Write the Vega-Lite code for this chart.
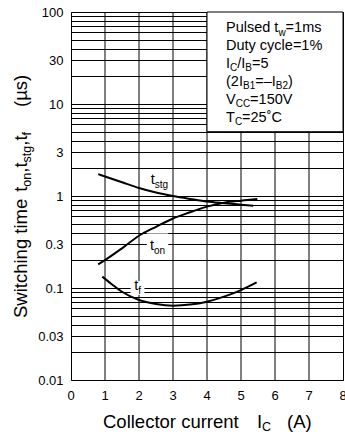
{
  "$schema": "https://vega.github.io/schema/vega-lite/v6.json",
  "width": 272,
  "height": 368,
  "autosize": "none",
  "padding": {"left": 71, "top": 12, "right": 2, "bottom": 54},
  "background": "white",
  "config": {
    "view": {"stroke": "black", "strokeWidth": 1},
    "font": "Liberation Sans",
    "axis": {
      "grid": true, "gridColor": "black", "gridWidth": 1, "gridOpacity": 1,
      "ticks": false, "domain": false,
      "labelFont": "Liberation Sans", "labelFontSize": 13, "labelColor": "black",
      "labelFlush": false, "labelOverlap": false, "labelBound": false
    },
    "axisY": {"labelPadding": 8}
  },
  "datasets": {
    "curves": [
      {"series": "tstg", "x": 0.8, "y": 1.73},
      {"series": "tstg", "x": 1.5, "y": 1.41},
      {"series": "tstg", "x": 2.0, "y": 1.22},
      {"series": "tstg", "x": 2.5, "y": 1.09},
      {"series": "tstg", "x": 3.0, "y": 1.0},
      {"series": "tstg", "x": 3.5, "y": 0.93},
      {"series": "tstg", "x": 4.0, "y": 0.87},
      {"series": "tstg", "x": 4.5, "y": 0.835},
      {"series": "tstg", "x": 5.0, "y": 0.805},
      {"series": "tstg", "x": 5.36, "y": 0.785},
      {"series": "ton", "x": 0.8, "y": 0.181},
      {"series": "ton", "x": 1.0, "y": 0.201},
      {"series": "ton", "x": 1.5, "y": 0.27},
      {"series": "ton", "x": 2.0, "y": 0.37},
      {"series": "ton", "x": 2.5, "y": 0.463},
      {"series": "ton", "x": 3.0, "y": 0.57},
      {"series": "ton", "x": 3.5, "y": 0.665},
      {"series": "ton", "x": 4.0, "y": 0.766},
      {"series": "ton", "x": 4.5, "y": 0.845},
      {"series": "ton", "x": 5.0, "y": 0.89},
      {"series": "ton", "x": 5.48, "y": 0.927},
      {"series": "tf", "x": 0.92, "y": 0.133},
      {"series": "tf", "x": 1.2, "y": 0.11},
      {"series": "tf", "x": 1.5, "y": 0.091},
      {"series": "tf", "x": 2.0, "y": 0.074},
      {"series": "tf", "x": 2.5, "y": 0.067},
      {"series": "tf", "x": 3.0, "y": 0.0643},
      {"series": "tf", "x": 3.5, "y": 0.066},
      {"series": "tf", "x": 4.0, "y": 0.071},
      {"series": "tf", "x": 4.5, "y": 0.0805},
      {"series": "tf", "x": 5.0, "y": 0.095},
      {"series": "tf", "x": 5.46, "y": 0.115}
    ],
    "vgrid": [
      {"x": 1, "y": 0.01, "y2": 100},
      {"x": 2, "y": 0.01, "y2": 100},
      {"x": 3, "y": 0.01, "y2": 100},
      {"x": 4, "y": 0.01, "y2": 100},
      {"x": 5, "y": 0.01, "y2": 100},
      {"x": 6, "y": 0.01, "y2": 100},
      {"x": 7, "y": 0.01, "y2": 100}
    ],
    "xlabels": [
      {"x": 0, "y": 0.007783, "text": "0"},
      {"x": 1, "y": 0.007783, "text": "1"},
      {"x": 2, "y": 0.007783, "text": "2"},
      {"x": 3, "y": 0.007783, "text": "3"},
      {"x": 4, "y": 0.007783, "text": "4"},
      {"x": 5, "y": 0.007783, "text": "5"},
      {"x": 6, "y": 0.007783, "text": "6"},
      {"x": 7, "y": 0.007783, "text": "7"},
      {"x": 8, "y": 0.007783, "text": "8"}
    ],
    "box": [
      {"x": 4, "x2": 8, "y": 5, "y2": 100}
    ],
    "labelbg": [
      {"series": "ton", "x": 2.544, "y": 0.3},
      {"series": "tf", "x": 1.956, "y": 0.1}
    ],
    "curveMain": [
      {"x": 2.344, "y": 1.35, "text": "t"},
      {"x": 2.324, "y": 0.2588, "text": "t"},
      {"x": 1.862, "y": 0.0951, "text": "t"}
    ],
    "curveSub": [
      {"x": 2.462, "y": 1.237, "text": "stg"},
      {"x": 2.441, "y": 0.2371, "text": "on"},
      {"x": 1.979, "y": 0.0871, "text": "f"}
    ],
    "legendMain": [
      {"x": 4.559, "y": 59.88, "text": "Pulsed t"},
      {"x": 6.312, "y": 59.88, "text": "=1ms"},
      {"x": 4.559, "y": 38.63, "text": "Duty cycle=1%"},
      {"x": 4.559, "y": 24.62, "text": "I"},
      {"x": 4.888, "y": 24.62, "text": "/I"},
      {"x": 5.324, "y": 24.62, "text": "=5"},
      {"x": 4.559, "y": 15.69, "text": "(2I"},
      {"x": 5.418, "y": 15.69, "text": "=–I"},
      {"x": 6.382, "y": 15.69, "text": ")"},
      {"x": 4.559, "y": 10.0, "text": "V"},
      {"x": 5.268, "y": 10.0, "text": "=150V"},
      {"x": 4.559, "y": 6.453, "text": "T"},
      {"x": 5.032, "y": 6.453, "text": "=25˚C"}
    ],
    "legendSub": [
      {"x": 6.1, "y": 54.83, "text": "w"},
      {"x": 4.676, "y": 22.56, "text": "C"},
      {"x": 5.126, "y": 22.56, "text": "B"},
      {"x": 5.059, "y": 14.38, "text": "B1"},
      {"x": 6.024, "y": 14.38, "text": "B2"},
      {"x": 4.844, "y": 9.163, "text": "CC"},
      {"x": 4.821, "y": 5.911, "text": "C"}
    ],
    "yTitleMain": [
      {"x": -1.303, "y": 0.0472, "text": "Switching time"},
      {"x": -1.303, "y": 1.1136, "text": "t"},
      {"x": -1.303, "y": 1.792, "text": ",t"},
      {"x": -1.303, "y": 3.521, "text": ",t"},
      {"x": -1.303, "y": 9.277, "text": "(µs)"}
    ],
    "yTitleSub": [
      {"x": -1.191, "y": 1.2623, "text": "on"},
      {"x": -1.191, "y": 2.318, "text": "stg"},
      {"x": -1.191, "y": 4.557, "text": "f"}
    ],
    "xTitleMain": [
      {"x": 0.941, "y": 0.003009, "text": "Collector current"},
      {"x": 5.471, "y": 0.003009, "text": "I"},
      {"x": 6.353, "y": 0.003009, "text": "(A)"}
    ],
    "xTitleSub": [
      {"x": 5.618, "y": 0.00279, "text": "C"}
    ]
  },
  "encoding": {
    "x": {
      "field": "x", "type": "quantitative", "title": null,
      "scale": {"domain": [0, 8], "nice": false, "zero": false},
      "axis": null
    },
    "y": {
      "field": "y", "type": "quantitative", "title": null,
      "scale": {"type": "log", "domain": [0.01, 100], "nice": false},
      "axis": {
        "values": [0.01, 0.02, 0.03, 0.04, 0.05, 0.06, 0.07, 0.08, 0.09, 0.1, 0.2, 0.3, 0.4, 0.5, 0.6, 0.7, 0.8, 0.9, 1, 2, 3, 4, 5, 6, 7, 8, 9, 10, 20, 30, 40, 50, 60, 70, 80, 90, 100],
        "labelExpr": "indexof([0.01, 0.03, 0.1, 0.3, 1, 3, 10, 30, 100], datum.value) >= 0 ? format(datum.value, '~g') : ''"
      }
    }
  },
  "layer": [
    {
      "data": {"name": "vgrid"},
      "mark": {"type": "rule", "color": "black", "strokeWidth": 1},
      "encoding": {
        "y2": {"field": "y2"}
      }
    },
    {
      "data": {"name": "box"},
      "mark": {"type": "rect", "fill": "white", "stroke": "black", "strokeWidth": 1},
      "encoding": {
        "x2": {"field": "x2"},
        "y2": {"field": "y2"}
      }
    },
    {
      "data": {"name": "curves"},
      "mark": {"type": "line", "color": "black", "strokeWidth": 2, "interpolate": "monotone"},
      "encoding": {
        "detail": {"field": "series"}
      }
    },
    {
      "data": {"name": "labelbg"},
      "transform": [{"filter": "datum.series === 'ton'"}],
      "mark": {"type": "point", "shape": "square", "filled": true, "color": "white", "opacity": 1, "size": 460}
    },
    {
      "data": {"name": "labelbg"},
      "transform": [{"filter": "datum.series === 'tf'"}],
      "mark": {"type": "point", "shape": "square", "filled": true, "color": "white", "opacity": 1, "size": 190}
    },
    {
      "data": {"name": "xlabels"},
      "mark": {"type": "text", "align": "center", "baseline": "top", "font": "Liberation Sans", "fontSize": 13, "color": "black"},
      "encoding": {"text": {"field": "text"}}
    },
    {
      "data": {"name": "curveMain"},
      "mark": {"type": "text", "align": "left", "baseline": "alphabetic", "font": "Liberation Sans", "fontSize": 14.5, "color": "black"},
      "encoding": {"text": {"field": "text"}}
    },
    {
      "data": {"name": "curveSub"},
      "mark": {"type": "text", "align": "left", "baseline": "alphabetic", "font": "Liberation Sans", "fontSize": 10, "color": "black"},
      "encoding": {"text": {"field": "text"}}
    },
    {
      "data": {"name": "legendMain"},
      "mark": {"type": "text", "align": "left", "baseline": "alphabetic", "font": "Liberation Sans", "fontSize": 14.5, "color": "black"},
      "encoding": {"text": {"field": "text"}}
    },
    {
      "data": {"name": "legendSub"},
      "mark": {"type": "text", "align": "left", "baseline": "alphabetic", "font": "Liberation Sans", "fontSize": 10, "color": "black"},
      "encoding": {"text": {"field": "text"}}
    },
    {
      "data": {"name": "yTitleMain"},
      "mark": {"type": "text", "align": "left", "baseline": "alphabetic", "angle": 270, "font": "Liberation Sans", "fontSize": 18.5, "color": "black"},
      "encoding": {"text": {"field": "text"}}
    },
    {
      "data": {"name": "yTitleSub"},
      "mark": {"type": "text", "align": "left", "baseline": "alphabetic", "angle": 270, "font": "Liberation Sans", "fontSize": 12.5, "color": "black"},
      "encoding": {"text": {"field": "text"}}
    },
    {
      "data": {"name": "xTitleMain"},
      "mark": {"type": "text", "align": "left", "baseline": "alphabetic", "font": "Liberation Sans", "fontSize": 18.5, "color": "black"},
      "encoding": {"text": {"field": "text"}}
    },
    {
      "data": {"name": "xTitleSub"},
      "mark": {"type": "text", "align": "left", "baseline": "alphabetic", "font": "Liberation Sans", "fontSize": 12.5, "color": "black"},
      "encoding": {"text": {"field": "text"}}
    }
  ]
}
